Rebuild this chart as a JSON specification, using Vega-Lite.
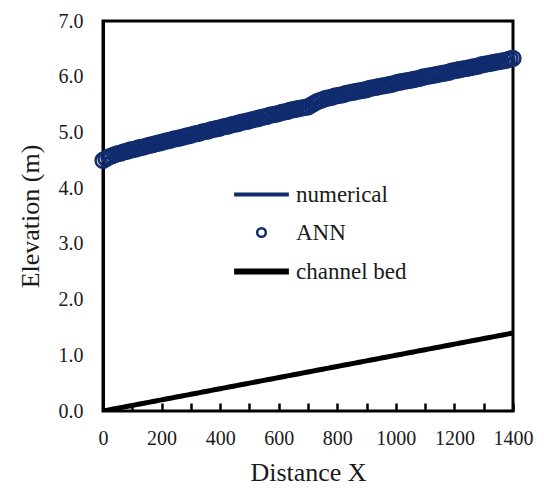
{
  "$schema": "https://vega.github.io/schema/vega-lite/v6.json",
  "autosize": "none",
  "width": 410,
  "height": 390,
  "padding": {"left": 103, "top": 21, "right": 31, "bottom": 77},
  "background": "white",
  "config": {
    "font": "Times New Roman",
    "view": {"stroke": "black", "strokeWidth": 3},
    "axis": {"grid": false, "domainColor": "black", "domainWidth": 3, "labelFont": "Times New Roman", "titleFont": "Times New Roman", "labelFontSize": 20, "titleFontSize": 26, "titleFontWeight": "normal", "labelColor": "#1a1a1a", "titleColor": "#1a1a1a"},
    "legend": {"labelFont": "Times New Roman"}
  },
  "data": {"values": [
    {"x":0,"h":4.50,"b":0.00},{"x":10,"h":4.53,"b":0.01},{"x":20,"h":4.56,"b":0.02},{"x":30,"h":4.58,"b":0.03},{"x":40,"h":4.60,"b":0.04},
    {"x":50,"h":4.62,"b":0.05},{"x":60,"h":4.63,"b":0.06},{"x":70,"h":4.65,"b":0.07},{"x":80,"h":4.66,"b":0.08},{"x":90,"h":4.68,"b":0.09},
    {"x":100,"h":4.69,"b":0.10},{"x":110,"h":4.70,"b":0.11},{"x":120,"h":4.72,"b":0.12},{"x":130,"h":4.73,"b":0.13},{"x":140,"h":4.74,"b":0.14},
    {"x":150,"h":4.76,"b":0.15},{"x":160,"h":4.77,"b":0.16},{"x":170,"h":4.78,"b":0.17},{"x":180,"h":4.80,"b":0.18},{"x":190,"h":4.81,"b":0.19},
    {"x":200,"h":4.82,"b":0.20},{"x":210,"h":4.84,"b":0.21},{"x":220,"h":4.85,"b":0.22},{"x":230,"h":4.86,"b":0.23},{"x":240,"h":4.88,"b":0.24},
    {"x":250,"h":4.89,"b":0.25},{"x":260,"h":4.90,"b":0.26},{"x":270,"h":4.91,"b":0.27},{"x":280,"h":4.93,"b":0.28},{"x":290,"h":4.94,"b":0.29},
    {"x":300,"h":4.95,"b":0.30},{"x":310,"h":4.97,"b":0.31},{"x":320,"h":4.98,"b":0.32},{"x":330,"h":4.99,"b":0.33},{"x":340,"h":5.01,"b":0.34},
    {"x":350,"h":5.02,"b":0.35},{"x":360,"h":5.03,"b":0.36},{"x":370,"h":5.05,"b":0.37},{"x":380,"h":5.06,"b":0.38},{"x":390,"h":5.07,"b":0.39},
    {"x":400,"h":5.08,"b":0.40},{"x":410,"h":5.10,"b":0.41},{"x":420,"h":5.11,"b":0.42},{"x":430,"h":5.12,"b":0.43},{"x":440,"h":5.14,"b":0.44},
    {"x":450,"h":5.15,"b":0.45},{"x":460,"h":5.16,"b":0.46},{"x":470,"h":5.18,"b":0.47},{"x":480,"h":5.19,"b":0.48},{"x":490,"h":5.20,"b":0.49},
    {"x":500,"h":5.21,"b":0.50},{"x":510,"h":5.23,"b":0.51},{"x":520,"h":5.24,"b":0.52},{"x":530,"h":5.25,"b":0.53},{"x":540,"h":5.27,"b":0.54},
    {"x":550,"h":5.28,"b":0.55},{"x":560,"h":5.29,"b":0.56},{"x":570,"h":5.31,"b":0.57},{"x":580,"h":5.32,"b":0.58},{"x":590,"h":5.33,"b":0.59},
    {"x":600,"h":5.34,"b":0.60},{"x":610,"h":5.36,"b":0.61},{"x":620,"h":5.37,"b":0.62},{"x":630,"h":5.38,"b":0.63},{"x":640,"h":5.40,"b":0.64},
    {"x":650,"h":5.41,"b":0.65},{"x":660,"h":5.42,"b":0.66},{"x":670,"h":5.43,"b":0.67},{"x":680,"h":5.44,"b":0.68},{"x":690,"h":5.45,"b":0.69},
    {"x":700,"h":5.46,"b":0.70},{"x":710,"h":5.49,"b":0.71},{"x":720,"h":5.52,"b":0.72},{"x":730,"h":5.55,"b":0.73},{"x":740,"h":5.57,"b":0.74},
    {"x":750,"h":5.59,"b":0.75},{"x":760,"h":5.61,"b":0.76},{"x":770,"h":5.62,"b":0.77},{"x":780,"h":5.63,"b":0.78},{"x":790,"h":5.65,"b":0.79},
    {"x":800,"h":5.66,"b":0.80},{"x":810,"h":5.67,"b":0.81},{"x":820,"h":5.68,"b":0.82},{"x":830,"h":5.70,"b":0.83},{"x":840,"h":5.71,"b":0.84},
    {"x":850,"h":5.72,"b":0.85},{"x":860,"h":5.73,"b":0.86},{"x":870,"h":5.74,"b":0.87},{"x":880,"h":5.75,"b":0.88},{"x":890,"h":5.76,"b":0.89},
    {"x":900,"h":5.77,"b":0.90},{"x":910,"h":5.79,"b":0.91},{"x":920,"h":5.80,"b":0.92},{"x":930,"h":5.81,"b":0.93},{"x":940,"h":5.82,"b":0.94},
    {"x":950,"h":5.83,"b":0.95},{"x":960,"h":5.84,"b":0.96},{"x":970,"h":5.85,"b":0.97},{"x":980,"h":5.86,"b":0.98},{"x":990,"h":5.87,"b":0.99},
    {"x":1000,"h":5.89,"b":1.00},{"x":1010,"h":5.90,"b":1.01},{"x":1020,"h":5.91,"b":1.02},{"x":1030,"h":5.92,"b":1.03},{"x":1040,"h":5.93,"b":1.04},
    {"x":1050,"h":5.94,"b":1.05},{"x":1060,"h":5.95,"b":1.06},{"x":1070,"h":5.96,"b":1.07},{"x":1080,"h":5.97,"b":1.08},{"x":1090,"h":5.99,"b":1.09},
    {"x":1100,"h":6.00,"b":1.10},{"x":1110,"h":6.01,"b":1.11},{"x":1120,"h":6.02,"b":1.12},{"x":1130,"h":6.03,"b":1.13},{"x":1140,"h":6.04,"b":1.14},
    {"x":1150,"h":6.05,"b":1.15},{"x":1160,"h":6.06,"b":1.16},{"x":1170,"h":6.07,"b":1.17},{"x":1180,"h":6.08,"b":1.18},{"x":1190,"h":6.10,"b":1.19},
    {"x":1200,"h":6.11,"b":1.20},{"x":1210,"h":6.12,"b":1.21},{"x":1220,"h":6.13,"b":1.22},{"x":1230,"h":6.14,"b":1.23},{"x":1240,"h":6.15,"b":1.24},
    {"x":1250,"h":6.16,"b":1.25},{"x":1260,"h":6.17,"b":1.26},{"x":1270,"h":6.18,"b":1.27},{"x":1280,"h":6.19,"b":1.28},{"x":1290,"h":6.21,"b":1.29},
    {"x":1300,"h":6.22,"b":1.30},{"x":1310,"h":6.23,"b":1.31},{"x":1320,"h":6.24,"b":1.32},{"x":1330,"h":6.25,"b":1.33},{"x":1340,"h":6.26,"b":1.34},
    {"x":1350,"h":6.27,"b":1.35},{"x":1360,"h":6.28,"b":1.36},{"x":1370,"h":6.29,"b":1.37},{"x":1380,"h":6.30,"b":1.38},{"x":1390,"h":6.32,"b":1.39},
    {"x":1400,"h":6.33,"b":1.40}
  ]},
  "encoding": {
    "x": {"field": "x", "type": "quantitative", "title": "Distance X",
      "scale": {"domain": [0, 1400], "nice": false, "zero": false},
      "axis": {"values": [0,100,200,300,400,500,600,700,800,900,1000,1100,1200,1300,1400],
        "labelExpr": "datum.value % 200 === 0 ? datum.label : ''", "format": "d", "ticks": true, "domain": false, "offset": -8,
        "tickSize": 8, "tickWidth": 2.5, "tickColor": "black", "labelPadding": 17, "titlePadding": 11, "labelFlush": false, "labelOverlap": false, "zindex": 1}},
    "color": {"scale": {"domain": ["numerical", "ANN", "channel bed"], "range": ["#102C6E", "#102C6E", "black"]},
      "legend": {"title": null, "orient": "none", "legendX": 147, "legendY": 162,
        "symbolType": "stroke", "symbolSize": 3000, "labelFontSize": 23, "labelColor": "#1a1a1a", "labelOffset": 23, "rowPadding": 14,
        "encode": {"symbols": {"update": {
          "shape": {"signal": "datum.value === 'ANN' ? 'circle' : 'stroke'"},
          "size": {"signal": "datum.value === 'ANN' ? 75 : 3000"},
          "strokeWidth": {"signal": "datum.value === 'channel bed' ? 6 : (datum.value === 'ANN' ? 2.5 : 4)"},
          "fill": {"value": "transparent"},
          "stroke": {"signal": "datum.value === 'channel bed' ? 'black' : '#102C6E'"},
          "opacity": {"value": 1}
        }}}}}
  },
  "layer": [
    {"mark": {"type": "line", "strokeWidth": 5, "clip": true},
     "encoding": {"y": {"field": "b", "type": "quantitative", "title": "Elevation (m)",
        "scale": {"domain": [0, 7], "nice": false},
        "axis": {"values": [0,1,2,3,4,5,6,7], "format": ".1f", "ticks": false, "labelPadding": 20, "titlePadding": 15}},
       "color": {"datum": "channel bed"}}},
    {"mark": {"type": "line", "strokeWidth": 3},
     "encoding": {"y": {"field": "h", "type": "quantitative"}, "color": {"datum": "numerical"}}},
    {"mark": {"type": "point", "filled": false, "size": 220, "strokeWidth": 2.5, "opacity": 1},
     "encoding": {"y": {"field": "h", "type": "quantitative"}, "color": {"datum": "ANN"}}}
  ]
}
